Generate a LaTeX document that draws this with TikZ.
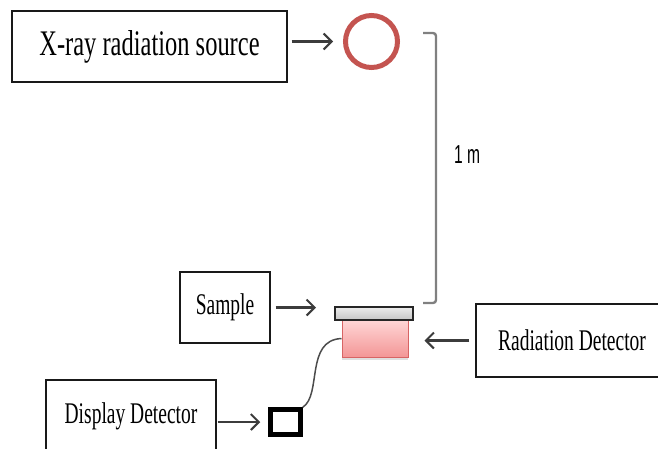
\documentclass[tikz,border=0pt]{standalone}
\usepackage{fontspec}
\usepackage{tikz}
\usetikzlibrary{arrows.meta,shadows}
\newfontfamily\boxfont{Liberation Serif}[FakeStretch=0.65]
\newfontfamily\bigboxfont{Liberation Serif}[FakeStretch=0.68]
\newfontfamily\dimfont{Liberation Sans}[FakeStretch=0.6]
\definecolor{ringred}{RGB}{196,84,80}
\definecolor{pinktop}{RGB}{255,214,214}
\definecolor{pinkbot}{RGB}{243,150,150}
\definecolor{pinkedge}{RGB}{215,100,100}
\definecolor{arrgray}{RGB}{60,60,60}

\tikzset{
  labelbox/.style={draw=black!90, line width=1.4pt, inner sep=0pt, align=center,
                   font=\boxfont\fontsize{30}{34}\selectfont},
  arr/.style={draw=arrgray, line width=2.4pt, -{Straight Barb[length=8pt,width=16pt,line width=2pt]}},
  bracketline/.style={draw=gray, line width=2.4pt, rounded corners=3pt},
}

\begin{document}
\begin{tikzpicture}[x=1pt,y=-1pt]
	\useasboundingbox (0,0) rectangle (658,448);
	\clip (0,0) rectangle (658,448);
	% boxes with text
	\node[labelbox, minimum width=275, minimum height=71, font=\bigboxfont\fontsize{36}{40}\selectfont] (xray) at (149.5,46.5) {X-ray radiation source};
	\node[labelbox, minimum width=90, minimum height=71] (sample) at (225,307.5) {Sample};
	\node[labelbox, minimum width=192, minimum height=73] (raddet) at (572,340.5) {Radiation Detector};
	\node[labelbox, minimum width=170, minimum height=72] (display) at (131,416) {Display Detector};
	% the source, the sample and the detectors
	\node[circle, draw=ringred, line width=5pt, minimum size=52, inner sep=0pt] (source) at (371.5,41.5) {};
	\node[draw=pinkedge, line width=1pt, top color=pinktop, bottom color=pinkbot, minimum width=66, minimum height=37, inner sep=0pt,
	      drop shadow={opacity=0.25, shadow xshift=0pt, shadow yshift=-3pt}] (detbox) at (375,338.5) {};
	\node[draw=black!85, line width=2pt, top color=gray!15, bottom color=gray!45, minimum width=78, minimum height=13, inner sep=0pt] (plate) at (374,313.5) {};
	\node[draw=black, line width=4.5pt, fill=white, minimum width=30, minimum height=25, inner sep=0pt] (screen) at (285.5,422) {};
	% arrows
	\draw[arr, shorten <=4pt, shorten >=10pt] (xray.east |- source.west) -- (source.west);
	\draw[arr, shorten <=5pt, shorten >=18pt] (sample.east) -- (sample.east -| plate.west);
	\draw[arr, shorten <=6pt, shorten >=16pt] (raddet.west) -- (raddet.west -| detbox.east);
	\draw[arr, shorten <=1pt, shorten >=8pt] (display.east |- screen.west) -- (screen.west);
	% cable
	\draw[black!70, line width=1.5pt] (screen.north east) .. controls (322,395) and (305,340) .. (detbox.west);
	% distance bracket
	\coordinate (btop) at (423,33);
	\coordinate (bbot) at (423,303);
	\draw[bracketline] (btop) -- ++(13,0) |- (bbot);
	\node[font=\dimfont\fontsize{26}{30}\selectfont, inner sep=0pt] (dist) at (467,155) {1\,m};
\end{tikzpicture}
\end{document}
